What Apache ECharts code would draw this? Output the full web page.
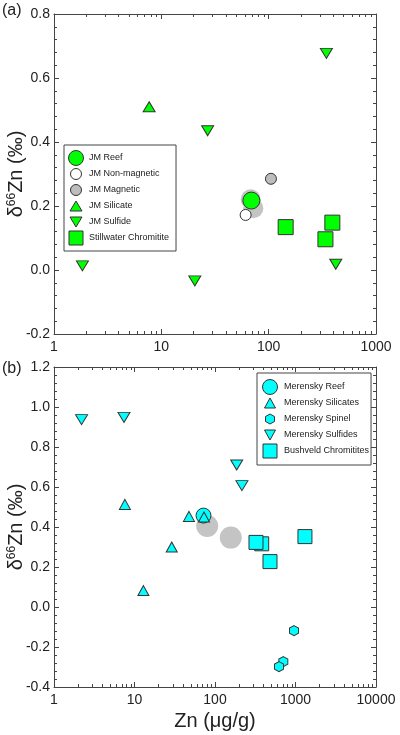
<!DOCTYPE html>
<html>
<head>
<meta charset="utf-8">
<script src="https://cdn.jsdelivr.net/npm/echarts@6/dist/echarts.min.js"></script>
<style>
html,body{margin:0;padding:0;background:#fff;}
#chart{width:400px;height:735px;}
</style>
</head>
<body>
<div id="chart"></div>
<script>
// ---------- data (Zn µg/g, δ66Zn ‰) ----------
// Panel (a): Stillwater / J-M Reef
const jmGray        = [[68, 0.221], [72, 0.193]];
const jmReef        = [[69, 0.217]];
const jmNonMagnetic = [[61, 0.172]];
const jmMagnetic    = [[105, 0.285]];
const jmSilicate    = [[7.7, 0.51]];
const jmSulfide     = [[1.84, 0.013], [20.5, -0.034], [27, 0.435], [345, 0.677], [422, 0.018]];
const stillwaterChromitite = [[144, 0.134], [392, 0.148], [338, 0.096]];
// Panel (b): Bushveld / Merensky Reef
const merGray       = [[80, 0.405], [157, 0.347]];
const merReef       = [[72, 0.457]];
const merSilicates  = [[7.6, 0.513], [12.9, 0.082], [29, 0.30], [47.5, 0.453], [73, 0.45]];
const merSpinel     = [[958, -0.118], [706, -0.273], [624, -0.298]];
const merSulfides   = [[2.2, 0.937], [7.4, 0.948], [186, 0.71], [216, 0.607]];
const bushveldChromitites = [[380, 0.316], [323, 0.323], [482, 0.227], [1310, 0.352]];
// axis ticks
const xMajorA = [1, 10, 100, 1000];
const xMajorB = [1, 10, 100, 1000, 10000];
const xMinorA = [2,3,4,5,6,7,8,9,20,30,40,50,60,70,80,90,200,300,400,500,600,700,800,900];
const xMinorB = xMinorA.concat([2000,3000,4000,5000,6000,7000,8000,9000]);
const yRangeA = [-0.2, 0.8];
const yRangeB = [-0.4, 1.2];

// ---------- style ----------
const FONT = '"Liberation Sans", Arial, Helvetica, sans-serif';
const INK = '#222';
const FRAME = '#444';
const GREEN = '#00ff00';
const CYAN = '#00ffff';
const EDGE = '#333';
const HEX = 'path://M0,-10 L8.66,-5 L8.66,5 L0,10 L-8.66,5 L-8.66,-5 Z';

// legend icons drawn inside a fixed 15x15 frame so their sizes differ
const F = 15, C = 7.5;
function pad(d){ return 'path://M0,0 M' + F + ',' + F + ' ' + d; }
function icCircle(dm){ const r = dm/2; return pad(`M${C-r},${C} A${r},${r} 0 1 1 ${C+r},${C} A${r},${r} 0 1 1 ${C-r},${C} Z`); }
function icSquare(s){ const h = s/2; return pad(`M${C-h},${C-h} L${C+h},${C-h} L${C+h},${C+h} L${C-h},${C+h} Z`); }
function icTriUp(w,h){ return pad(`M${C},${C-h/2} L${C+w/2},${C+h/2} L${C-w/2},${C+h/2} Z`); }
function icTriDown(w,h){ return pad(`M${C-w/2},${C-h/2} L${C+w/2},${C-h/2} L${C},${C+h/2} Z`); }
function icHex(w,h){ const a=w/2, b=h/2; return pad(`M${C},${C-b} L${C+a},${C-b/2} L${C+a},${C+b/2} L${C},${C+b} L${C-a},${C+b/2} L${C-a},${C-b/2} Z`); }

const lineStyle = {color: FRAME, width: 1};

function xAxes(g, max, majors, minors, withName){
  const base = {
    gridIndex: g, type: 'log', logBase: 10, min: 1, max: max,
    splitLine: {show: false}, minorSplitLine: {show: false}
  };
  return [
    Object.assign({}, base, {
      position: 'bottom',
      axisLine: {show: true, onZero: false, lineStyle},
      axisTick: {show: true, inside: true, length: 5, lineStyle, customValues: majors},
      axisLabel: {show: true, margin: 6, fontSize: 14, color: INK, fontFamily: FONT,
        customValues: majors, formatter: v => String(Math.round(v))},
      name: withName ? 'Zn (μg/g)' : '', nameLocation: 'middle', nameGap: 24,
      nameMoveOverlap: false,
      nameTextStyle: {fontSize: 20, color: INK, fontFamily: FONT}
    }),
    Object.assign({}, base, {
      position: 'top',
      axisLine: {show: true, onZero: false, lineStyle},
      axisTick: {show: true, inside: true, length: 5, lineStyle, customValues: majors},
      axisLabel: {show: false}
    }),
    Object.assign({}, base, {
      position: 'bottom',
      axisLine: {show: false, onZero: false},
      axisTick: {show: true, inside: true, length: 3, lineStyle, customValues: minors},
      axisLabel: {show: false}
    }),
    Object.assign({}, base, {
      position: 'top',
      axisLine: {show: false, onZero: false},
      axisTick: {show: true, inside: true, length: 3, lineStyle, customValues: minors},
      axisLabel: {show: false}
    })
  ];
}

function yAxes(g, range){
  const base = {
    gridIndex: g, type: 'value', min: range[0], max: range[1], interval: 0.2,
    splitLine: {show: false},
    axisLine: {show: true, onZero: false, lineStyle},
    axisTick: {show: true, inside: true, length: 5, lineStyle},
    minorTick: {show: true, splitNumber: 5, length: 3, lineStyle}
  };
  return [
    Object.assign({}, base, {
      position: 'left',
      axisLabel: {show: true, margin: 4, fontSize: 14, color: INK, fontFamily: FONT,
        formatter: v => (Math.abs(v) < 1e-9 ? 0 : v).toFixed(1)},
      name: '{d|δ}{s|66}{d|Zn (‰)}', nameLocation: 'middle', nameRotate: 90, nameGap: 28,
      nameMoveOverlap: false,
      nameTextStyle: {color: INK, fontFamily: FONT, fontSize: 20,
        rich: {
          d: {fontSize: 20, color: INK, fontFamily: FONT},
          s: {fontSize: 12, color: INK, fontFamily: FONT, verticalAlign: 'top'}
        }}
    }),
    Object.assign({}, base, {position: 'right', axisLabel: {show: false}})
  ];
}

function sc(name, data, xi, yi, symbol, size, color, extra){
  return Object.assign({
    name, type: 'scatter', data, xAxisIndex: xi, yAxisIndex: yi,
    symbol, symbolSize: size,
    itemStyle: {color, borderColor: EDGE, borderWidth: 1, opacity: 1},
    emphasis: {disabled: true}, silent: true
  }, extra || {});
}

const grayStyle = {itemStyle: {color: '#c4c4c4', borderWidth: 0, opacity: 1}};

const series = [
  // panel (a)
  sc('JM Reef (bulk)', jmGray, 0, 0, 'circle', 20, '#c4c4c4', grayStyle),
  sc('JM Reef', jmReef, 0, 0, 'circle', 17, GREEN),
  sc('JM Non-magnetic', jmNonMagnetic, 0, 0, 'circle', 11, '#ffffff'),
  sc('JM Magnetic', jmMagnetic, 0, 0, 'circle', 11, '#bdbdbd'),
  sc('JM Silicate', jmSilicate, 0, 0, 'triangle', [12, 10], GREEN),
  sc('JM Sulfide', jmSulfide, 0, 0, 'triangle', [12, 10], GREEN, {symbolRotate: 180}),
  sc('Stillwater Chromitite', stillwaterChromitite, 0, 0, 'rect', 15, GREEN),
  // panel (b)
  sc('Merensky Reef (bulk)', merGray, 4, 2, 'circle', 22, '#c4c4c4', grayStyle),
  sc('Merensky Silicates', merSilicates, 4, 2, 'triangle', [11, 10], CYAN, {z: 3}),
  sc('Merensky Spinel', merSpinel, 4, 2, HEX, [9, 10], CYAN),
  sc('Merensky Sulfides', merSulfides, 4, 2, 'triangle', [12, 10], CYAN, {symbolRotate: 180}),
  sc('Bushveld Chromitites', bushveldChromitites, 4, 2, 'rect', 14, CYAN),
  sc('Merensky Reef', merReef, 4, 2, 'circle', 15, CYAN, {z: 2})
];

function li(name, icon, color){
  return {name, icon, itemStyle: {color, borderColor: EDGE, borderWidth: 1}};
}
const legendBase = {
  orient: 'vertical', itemGap: 0, itemHeight: F, selectedMode: false,
  backgroundColor: '#fff', borderColor: FRAME, borderWidth: 1, borderRadius: 0,
  textStyle: {fontSize: 9, color: INK, fontFamily: FONT}
};

const option = {
  animation: false,
  backgroundColor: '#fff',
  grid: [
    {left: 54, top: 14, width: 322, height: 320, containLabel: false, outerBoundsMode: 'none'},
    {left: 54, top: 367, width: 322, height: 320, containLabel: false, outerBoundsMode: 'none'}
  ],
  xAxis: xAxes(0, 1000, xMajorA, xMinorA, false).concat(xAxes(1, 10000, xMajorB, xMinorB, true)),
  yAxis: yAxes(0, yRangeA).concat(yAxes(1, yRangeB)),
  legend: [
    Object.assign({}, legendBase, {
      left: 64, top: 145, itemWidth: 16, padding: [5, 7, 5, 4],
      data: [
        li('JM Reef', icCircle(15), GREEN),
        li('JM Non-magnetic', icCircle(11), '#ffffff'),
        li('JM Magnetic', icCircle(11), '#bdbdbd'),
        li('JM Silicate', icTriUp(12, 10), GREEN),
        li('JM Sulfide', icTriDown(12, 10), GREEN),
        li('Stillwater Chromitite', icSquare(14), GREEN)
      ]
    }),
    Object.assign({}, legendBase, {
      left: 257, top: 373, itemWidth: 18, padding: [6, 2, 6, 5],
      data: [
        li('Merensky Reef', icCircle(15), CYAN),
        li('Merensky Silicates', icTriUp(11, 10), CYAN),
        li('Merensky Spinel', icHex(9, 10), CYAN),
        li('Merensky Sulfides', icTriDown(11, 10), CYAN),
        li('Bushveld Chromitites', icSquare(14), CYAN)
      ]
    })
  ],
  graphic: [
    {type: 'text', left: 2, top: 3, style: {text: '(a)', fontSize: 16, fill: INK, fontFamily: FONT}},
    {type: 'text', left: 2, top: 361, style: {text: '(b)', fontSize: 16, fill: INK, fontFamily: FONT}}
  ],
  series
};

const chart = echarts.init(document.getElementById('chart'), null, {renderer: 'canvas'});
chart.setOption(option);
</script>
</body>
</html>
